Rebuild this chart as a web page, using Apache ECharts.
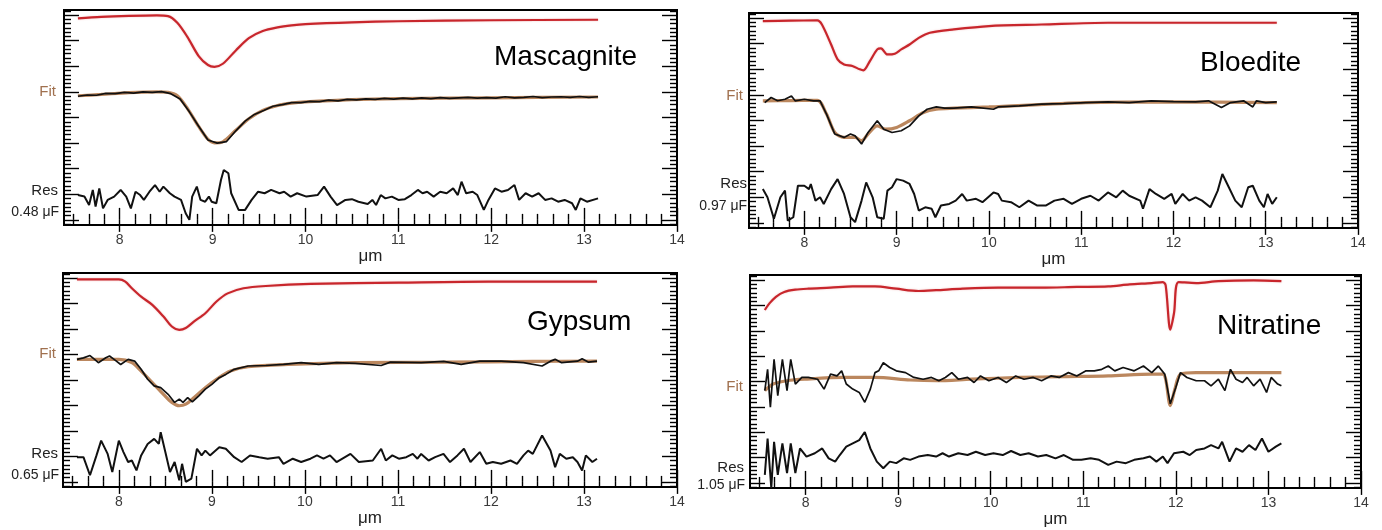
<!DOCTYPE html>
<html><head><meta charset="utf-8">
<script src="https://cdn.jsdelivr.net/npm/echarts@6/dist/echarts.min.js"></script>
<style>html,body{margin:0;padding:0;background:#fff}#c{width:1382px;height:530px}</style>
</head><body><div id="c"></div>
<script>
// ---- tick labels / names ----
const xTicks = [8, 9, 10, 11, 12, 13, 14];
const yTicks = [0, 1, 2, 3, 4, 5, 6, 7, 8];
const panelNames = ['Mascagnite', 'Bloedite', 'Gypsum', 'Nitratine'];
const resLabels = ['0.48 μF', '0.97 μF', '0.65 μF', '1.05 μF'];

// ---- Mascagnite ----
const mascRefX = [7.55,7.8,8.1,8.4,8.52,8.62,8.73,8.85,8.95,9.02,9.11,9.25,9.39,9.54,9.7,9.85,10.0,10.5,11.0,12.0,13.15];
const mascRefY = [7.87,7.93,7.97,7.99,7.96,7.7,7.14,6.4,6.05,5.98,6.1,6.62,7.1,7.38,7.52,7.6,7.65,7.72,7.76,7.8,7.82];
const mascFitX = [7.55,7.8,8.1,8.4,8.52,8.62,8.73,8.85,8.95,9.02,9.11,9.25,9.39,9.54,9.7,9.85,10.0,10.5,11.0,12.0,13.15];
const mascFitY = [4.85,4.9,4.97,5.0,4.98,4.85,4.35,3.65,3.15,3.01,3.05,3.5,3.95,4.28,4.47,4.56,4.61,4.7,4.74,4.77,4.8];
const mascObsX = [7.55,7.65,7.75,7.85,7.95,8.05,8.15,8.25,8.35,8.45,8.55,8.65,8.75,8.85,8.95,9.05,9.15,9.25,9.35,9.45,9.55,9.65,9.75,9.85,9.95,10.05,10.15,10.25,10.35,10.45,10.55,10.65,10.75,10.85,10.95,11.05,11.15,11.25,11.35,11.45,11.55,11.65,11.75,11.85,11.95,12.05,12.15,12.25,12.35,12.45,12.55,12.65,12.75,12.85,12.95,13.05,13.15];
const mascObsY = [4.83,4.88,4.87,4.94,4.93,4.98,4.95,5.0,4.98,5.01,4.93,4.72,4.22,3.66,3.12,3.0,3.06,3.48,3.86,4.12,4.27,4.44,4.5,4.58,4.58,4.63,4.62,4.68,4.65,4.71,4.69,4.73,4.71,4.75,4.72,4.76,4.73,4.77,4.74,4.78,4.75,4.77,4.79,4.76,4.78,4.76,4.81,4.77,4.79,4.82,4.78,4.8,4.81,4.79,4.82,4.79,4.81];
const mascResX = [7.55,7.62,7.67,7.71,7.74,7.78,7.82,7.87,7.94,8.01,8.07,8.12,8.17,8.22,8.26,8.32,8.38,8.43,8.47,8.54,8.59,8.66,8.71,8.75,8.78,8.83,8.87,8.92,8.96,8.99,9.04,9.09,9.12,9.17,9.2,9.28,9.35,9.42,9.49,9.56,9.63,9.72,9.77,9.84,9.91,10.01,10.13,10.2,10.27,10.34,10.43,10.5,10.57,10.67,10.72,10.76,10.81,10.86,10.93,11.0,11.07,11.14,11.21,11.26,11.31,11.38,11.45,11.52,11.59,11.64,11.68,11.73,11.8,11.85,11.92,11.97,12.04,12.11,12.18,12.25,12.3,12.37,12.44,12.51,12.58,12.65,12.72,12.79,12.87,12.91,12.96,13.03,13.15];
const mascResY = [0.97,0.91,0.58,1.17,0.52,1.23,0.45,0.78,0.91,1.17,0.91,0.45,1.1,0.97,0.78,1.1,1.36,1.1,1.3,1.04,0.91,0.78,0.26,0.0,0.91,1.3,0.78,0.71,0.91,0.71,0.65,1.56,1.95,1.82,1.04,0.39,0.39,0.78,1.1,1.04,1.17,1.04,1.1,0.91,1.04,0.91,0.97,1.3,0.91,0.58,0.78,0.81,0.71,0.62,0.78,0.58,0.97,0.84,0.91,0.78,0.81,0.97,1.17,1.04,1.1,0.91,1.1,1.04,1.23,0.97,1.49,1.04,1.1,0.97,0.39,0.78,1.23,1.1,1.17,1.36,0.78,1.04,0.91,1.04,0.78,0.84,0.71,0.78,0.65,0.39,0.84,0.71,0.84];

// ---- Bloedite ----
const bloeRefX = [7.55,7.85,8.14,8.19,8.29,8.36,8.43,8.52,8.6,8.64,8.71,8.79,8.83,8.9,8.98,9.05,9.14,9.24,9.36,9.62,10.0,10.57,11.29,12.0,13.12];
const bloeRefY = [7.88,7.9,7.91,7.75,6.97,6.39,6.19,6.13,6.0,5.96,6.32,6.78,6.82,6.58,6.61,6.78,6.97,7.23,7.43,7.56,7.69,7.75,7.82,7.82,7.82];
const bloeFitX = [7.55,7.85,8.14,8.24,8.33,8.43,8.55,8.62,8.69,8.79,8.88,9.0,9.14,9.29,9.43,9.62,10.0,11.05,12.0,13.12];
const bloeFitY = [4.77,4.78,4.79,4.25,3.53,3.34,3.34,3.21,3.47,3.79,3.66,3.73,3.99,4.31,4.44,4.48,4.53,4.7,4.73,4.7];
const bloeObsX = [7.57,7.64,7.71,7.79,7.86,7.9,8.0,8.1,8.17,8.24,8.33,8.43,8.5,8.55,8.62,8.69,8.79,8.86,8.95,9.05,9.14,9.24,9.33,9.43,9.52,9.62,9.81,10.05,10.1,10.33,10.57,10.81,11.05,11.29,11.52,11.76,12.0,12.24,12.38,12.52,12.62,12.76,12.86,12.9,13.0,13.12];
const bloeObsY = [4.7,4.9,4.77,4.83,4.96,4.77,4.83,4.77,4.77,4.25,3.47,3.34,3.47,3.4,3.08,3.53,3.99,3.66,3.53,3.6,3.79,4.18,4.44,4.53,4.48,4.48,4.53,4.44,4.53,4.57,4.64,4.66,4.7,4.73,4.7,4.77,4.74,4.73,4.77,4.51,4.7,4.77,4.53,4.77,4.7,4.73];
const bloeResX = [7.55,7.6,7.67,7.74,7.79,7.82,7.88,7.93,8.0,8.05,8.07,8.12,8.17,8.21,8.29,8.36,8.43,8.5,8.55,8.62,8.67,8.74,8.79,8.86,8.9,8.95,9.0,9.07,9.14,9.19,9.24,9.31,9.38,9.42,9.48,9.57,9.64,9.71,9.76,9.86,9.93,10.05,10.1,10.14,10.24,10.33,10.43,10.52,10.62,10.71,10.81,10.9,11.0,11.1,11.19,11.29,11.38,11.45,11.52,11.64,11.67,11.74,11.81,11.9,11.98,12.02,12.1,12.17,12.24,12.31,12.4,12.48,12.53,12.6,12.67,12.74,12.81,12.86,12.93,12.98,13.02,13.07,13.12];
const bloeResY = [1.32,1.0,0.16,1.0,1.26,0.09,0.22,1.45,1.45,1.32,1.52,0.87,1.0,0.74,1.32,1.71,1.13,0.22,0.03,0.87,1.58,1.0,0.22,0.16,1.26,1.39,1.71,1.65,1.52,1.13,0.48,0.61,0.55,0.22,0.68,0.74,0.87,1.13,0.87,0.94,0.81,1.19,1.13,0.87,0.81,0.61,0.87,0.68,0.68,0.87,0.94,0.74,0.94,1.06,0.87,1.19,1.0,1.26,1.06,0.87,0.55,1.32,1.13,0.94,1.13,0.74,1.13,0.87,1.0,0.87,0.61,1.26,1.91,1.39,0.87,0.61,1.39,1.45,0.87,0.61,1.13,0.74,1.0];

// ---- Gypsum ----
const gypsRefX = [7.55,8.0,8.07,8.14,8.24,8.36,8.48,8.57,8.65,8.72,8.81,8.93,9.05,9.17,9.34,9.58,10.06,11.01,11.97,13.14];
const gypsRefY = [7.95,7.95,7.86,7.6,7.27,6.95,6.49,6.1,5.97,6.04,6.3,6.62,7.08,7.4,7.6,7.69,7.77,7.82,7.86,7.86];
const gypsFitX = [7.55,8.0,8.14,8.24,8.36,8.48,8.57,8.65,8.72,8.81,8.93,9.05,9.2,9.39,9.82,10.54,11.49,12.45,13.14];
const gypsFitY = [4.81,4.81,4.68,4.35,3.9,3.44,3.12,2.99,3.05,3.31,3.7,4.03,4.35,4.52,4.61,4.68,4.7,4.73,4.74];
const gypsObsX = [7.55,7.62,7.69,7.74,7.78,7.86,7.9,7.96,8.02,8.1,8.17,8.24,8.31,8.38,8.45,8.53,8.6,8.65,8.69,8.74,8.79,8.86,8.93,9.0,9.08,9.15,9.24,9.39,9.58,9.77,9.96,10.15,10.34,10.54,10.82,10.92,11.25,11.49,11.68,11.88,12.11,12.35,12.55,12.64,12.69,12.76,12.93,12.98,13.05,13.14];
const gypsObsY = [4.81,4.87,4.96,4.81,4.68,4.87,4.94,4.78,4.61,4.81,4.74,4.42,4.03,3.77,3.7,3.44,3.12,3.25,3.12,3.31,3.14,3.38,3.64,3.83,4.09,4.22,4.42,4.55,4.57,4.61,4.68,4.61,4.68,4.65,4.57,4.7,4.68,4.73,4.61,4.74,4.74,4.68,4.55,4.74,4.81,4.68,4.74,4.83,4.7,4.74];
const gypsResX = [7.55,7.62,7.69,7.76,7.81,7.88,7.93,8.0,8.05,8.1,8.14,8.19,8.24,8.31,8.38,8.43,8.45,8.5,8.55,8.6,8.65,8.68,8.72,8.78,8.84,8.89,8.93,8.98,9.08,9.15,9.24,9.32,9.41,9.51,9.6,9.72,9.77,9.87,9.96,10.06,10.13,10.2,10.27,10.34,10.49,10.58,10.73,10.82,10.87,10.94,11.01,11.09,11.16,11.21,11.25,11.33,11.4,11.49,11.56,11.64,11.71,11.78,11.88,11.95,12.02,12.11,12.21,12.28,12.35,12.4,12.45,12.55,12.64,12.69,12.74,12.81,12.88,12.93,12.98,13.02,13.09,13.14];
const gypsResY = [0.97,0.97,0.26,1.04,1.62,1.1,0.39,1.62,1.17,0.78,0.84,0.45,1.04,1.49,1.69,1.49,1.95,1.17,0.39,0.78,0.06,0.71,0.0,0.13,1.3,1.04,1.23,1.04,1.36,1.3,0.97,0.78,1.04,0.97,0.91,0.97,0.71,0.91,0.78,0.91,1.04,0.91,1.04,0.78,1.1,0.78,0.84,1.3,0.84,1.04,0.91,0.97,1.1,0.91,1.1,0.84,0.97,1.1,0.78,1.04,1.3,0.78,1.17,0.71,0.78,0.71,0.84,0.71,1.04,1.23,1.1,1.82,1.23,0.58,1.1,0.91,0.97,0.78,0.45,1.04,0.78,0.91];

// ---- Nitratine ----
const nitrRefX = [7.56,7.61,7.68,7.77,7.89,8.03,8.27,8.51,8.75,8.98,9.22,9.41,9.7,10.08,10.55,10.93,11.27,11.5,11.74,11.86,11.89,11.94,11.98,12.03,12.22,12.46,12.84,13.14];
const nitrRefY = [6.82,7.08,7.34,7.53,7.62,7.66,7.7,7.75,7.75,7.66,7.57,7.6,7.66,7.7,7.7,7.73,7.75,7.83,7.88,7.92,7.79,6.04,6.69,7.92,7.88,7.96,7.99,7.96];
const nitrFitX = [7.56,7.65,7.8,7.99,8.41,8.75,9.13,9.41,9.79,10.32,10.79,11.27,11.74,11.86,11.89,11.94,11.99,12.05,12.22,12.69,13.14];
const nitrFitY = [3.64,3.9,4.03,4.09,4.16,4.16,4.06,4.03,4.09,4.16,4.19,4.22,4.29,4.29,4.09,3.05,3.7,4.29,4.35,4.35,4.35];
const nitrObsX = [7.56,7.59,7.62,7.66,7.7,7.75,7.8,7.84,7.89,7.96,8.03,8.13,8.2,8.27,8.34,8.39,8.44,8.51,8.58,8.64,8.7,8.75,8.79,8.84,8.91,8.98,9.08,9.17,9.27,9.36,9.44,9.51,9.58,9.65,9.75,9.82,9.89,9.98,10.08,10.17,10.27,10.36,10.46,10.55,10.65,10.74,10.84,10.93,11.03,11.12,11.2,11.27,11.34,11.43,11.55,11.65,11.74,11.81,11.88,11.94,12.0,12.05,12.12,12.22,12.31,12.38,12.46,12.53,12.59,12.65,12.72,12.77,12.84,12.91,12.98,13.03,13.1,13.14];
const nitrObsY = [3.64,4.48,2.99,4.87,3.44,4.87,3.64,4.87,3.9,4.16,4.16,4.09,3.7,4.29,4.22,4.42,3.9,3.7,3.57,3.18,3.7,4.35,4.42,4.74,4.55,4.42,4.35,4.16,4.09,4.16,4.03,4.16,4.35,4.09,4.16,3.96,4.22,4.03,4.16,3.96,4.22,4.09,4.16,4.03,4.22,4.16,4.35,4.22,4.42,4.42,4.48,4.61,4.42,4.55,4.42,4.61,4.35,4.61,4.29,3.12,3.77,4.35,4.16,4.03,4.03,3.83,4.09,3.64,4.48,4.09,3.96,4.16,3.83,4.09,3.57,4.16,3.9,3.83];
const nitrResX = [7.56,7.59,7.63,7.66,7.7,7.75,7.8,7.84,7.89,7.94,8.01,8.1,8.18,8.25,8.32,8.37,8.44,8.51,8.58,8.64,8.7,8.77,8.84,8.91,8.98,9.06,9.13,9.22,9.32,9.41,9.48,9.55,9.65,9.75,9.84,9.94,10.03,10.13,10.22,10.32,10.41,10.51,10.6,10.7,10.79,10.89,10.98,11.08,11.17,11.27,11.36,11.46,11.55,11.65,11.72,11.79,11.86,11.91,11.98,12.08,12.15,12.22,12.31,12.38,12.46,12.5,12.58,12.65,12.72,12.79,12.86,12.93,13.0,13.08,13.14];
const nitrResY = [0.32,1.75,-0.2,1.62,0.32,1.56,0.39,1.56,0.39,1.36,1.04,1.17,1.36,0.97,0.84,1.1,1.43,1.56,1.69,2.01,1.36,0.84,0.58,0.84,0.78,0.97,0.91,1.04,1.1,1.04,1.17,1.04,1.17,1.1,1.23,1.1,1.17,1.1,1.26,1.1,1.17,1.04,1.1,0.97,1.1,0.91,0.91,0.97,0.91,0.71,0.84,0.78,0.91,0.97,1.04,0.84,1.04,0.78,1.17,1.23,1.1,1.3,1.36,1.49,1.36,1.62,0.84,1.36,1.23,1.49,1.3,1.75,1.23,1.43,1.56];

// ---- layout ----
const X_MIN = 7.4, X_MAX = 14, Y_MIN = -0.2, Y_MAX = 8.2, MINOR = 6;
const grids = [
  {left: 64, top: 10, width: 613, height: 215},
  {left: 749, top: 13, width: 609, height: 215},
  {left: 63, top: 273, width: 614, height: 214},
  {left: 750, top: 275, width: 611, height: 213}
];
const panels = [
  {ref:[mascRefX,mascRefY], fit:[mascFitX,mascFitY], obs:[mascObsX,mascObsY], res:[mascResX,mascResY]},
  {ref:[bloeRefX,bloeRefY], fit:[bloeFitX,bloeFitY], obs:[bloeObsX,bloeObsY], res:[bloeResX,bloeResY]},
  {ref:[gypsRefX,gypsRefY], fit:[gypsFitX,gypsFitY], obs:[gypsObsX,gypsObsY], res:[gypsResX,gypsResY]},
  {ref:[nitrRefX,nitrRefY], fit:[nitrFitX,nitrFitY], obs:[nitrObsX,nitrObsY], res:[nitrResX,nitrResY]}
];
// label anchor positions (pixels)
const titlePos = [[494, 57], [1200, 63], [527, 322], [1217, 326]];
const sideLab = [
  {fit:[56, 92], res:[58, 191], unit:[59, 212]},
  {fit:[743, 96], res:[747, 184], unit:[747, 206]},
  {fit:[56, 354], res:[58, 454], unit:[59, 475]},
  {fit:[743, 387], res:[744, 468], unit:[745, 485]}
];

function minorOf(ticks, lo, hi) {
  const out = [];
  const step = ticks[1] - ticks[0];
  for (let k = ticks[0] - step; k <= ticks[ticks.length - 1]; k += step) {
    for (let j = 1; j < MINOR; j++) {
      const v = +(k + j * step / MINOR).toFixed(5);
      if (v > lo && v < hi) out.push(v);
    }
  }
  return out;
}
const xMinor = minorOf(xTicks, X_MIN, X_MAX);
const yMinor = minorOf(yTicks, Y_MIN, Y_MAX);

const TICK = {color: '#000', width: 1.4};
const FONT = 'Liberation Sans';
const xAxis = [], yAxis = [], series = [], graphic = [];

grids.forEach((g, gi) => {
  const cx = {type: 'value', gridIndex: gi, min: X_MIN, max: X_MAX, splitLine: {show: false}, axisLine: {show: false}, axisLabel: {show: false}};
  const cy = {type: 'value', gridIndex: gi, min: Y_MIN, max: Y_MAX, splitLine: {show: false}, axisLine: {show: false}, axisLabel: {show: false}};
  xAxis.push({...cx, position: 'bottom', name: 'μm', nameLocation: 'middle', nameGap: 23,
    nameTextStyle: {fontFamily: FONT, fontSize: 17, color: '#222'},
    axisTick: {show: true, inside: true, length: 12, customValues: xTicks, lineStyle: TICK},
    axisLabel: {show: true, customValues: xTicks, margin: 8, fontFamily: FONT, fontSize: 14, color: '#3a3a3a'}});
  xAxis.push({...cx, position: 'bottom', axisTick: {show: true, inside: true, length: 6, customValues: xMinor, lineStyle: TICK}});
  xAxis.push({...cx, position: 'top', axisTick: {show: true, inside: true, length: 12, customValues: xTicks, lineStyle: TICK}});
  xAxis.push({...cx, position: 'top', axisTick: {show: true, inside: true, length: 6, customValues: xMinor, lineStyle: TICK}});
  yAxis.push({...cy, position: 'left', axisTick: {show: true, inside: true, length: 15, customValues: yTicks, lineStyle: TICK}});
  yAxis.push({...cy, position: 'left', axisTick: {show: true, inside: true, length: 7, customValues: yMinor, lineStyle: TICK}});
  yAxis.push({...cy, position: 'right', axisTick: {show: true, inside: true, length: 15, customValues: yTicks, lineStyle: TICK}});
  yAxis.push({...cy, position: 'right', axisTick: {show: true, inside: true, length: 7, customValues: yMinor, lineStyle: TICK}});

  const p = panels[gi];
  const pair = (a) => a[0].slice(0, Math.min(a[0].length, a[1].length)).map((x, i) => [x, a[1][i]]);
  const base = {type: 'line', xAxisIndex: gi * 4, yAxisIndex: gi * 4, showSymbol: false, symbol: 'none', silent: true, clip: true};
  series.push({...base, data: pair(p.ref), smooth: 0.3, lineStyle: {color: '#c8262c', width: 2.2, shadowColor: 'rgba(215,90,90,0.35)', shadowBlur: 2}});
  series.push({...base, data: pair(p.fit), smooth: 0.3, lineStyle: {color: '#bb875e', width: 3.2}});
  series.push({...base, data: pair(p.obs), lineStyle: {color: '#111', width: 1.7}});
  series.push({...base, data: pair(p.res), lineStyle: {color: '#111', width: 2}});

  graphic.push({type: 'text', x: titlePos[gi][0], y: titlePos[gi][1],
    style: {text: panelNames[gi], font: '28px "Liberation Sans"', fill: '#000', textAlign: 'left', textVerticalAlign: 'middle'}});
  const s = sideLab[gi];
  graphic.push({type: 'text', x: s.fit[0], y: s.fit[1], style: {text: 'Fit', font: '15px "Liberation Sans"', fill: '#a0704e', textAlign: 'right', textVerticalAlign: 'middle'}});
  graphic.push({type: 'text', x: s.res[0], y: s.res[1], style: {text: 'Res', font: '15px "Liberation Sans"', fill: '#222', textAlign: 'right', textVerticalAlign: 'middle'}});
  graphic.push({type: 'text', x: s.unit[0], y: s.unit[1], style: {text: resLabels[gi], font: '14px "Liberation Sans"', fill: '#222', textAlign: 'right', textVerticalAlign: 'middle'}});
});

const chart = echarts.init(document.getElementById('c'));
chart.setOption({
  animation: false,
  backgroundColor: '#fff',
  grid: grids.map(g => ({...g, show: true, borderColor: '#000', borderWidth: 2, backgroundColor: 'transparent', containLabel: false})),
  xAxis, yAxis, series, graphic
});
</script>
</body></html>
